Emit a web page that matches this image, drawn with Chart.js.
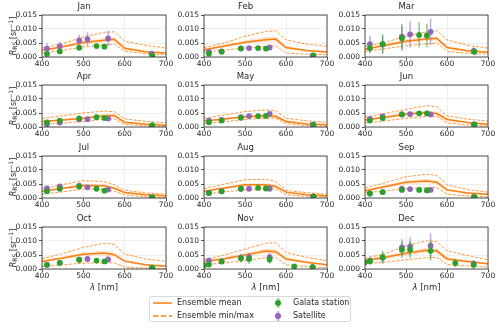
<!DOCTYPE html>
<html><head><meta charset="utf-8">
<script src="https://cdn.jsdelivr.net/npm/chart.js@4.4.1/dist/chart.umd.min.js"></script>
<style>
body{margin:0;background:#fff;width:500px;height:329px;overflow:hidden;position:relative;font-family:"DejaVu Sans",sans-serif;color:#262626;}
.panel{position:absolute;}
.ylab{position:absolute;font-size:8px;white-space:nowrap;transform:translate(-50%,-50%) rotate(-90deg);line-height:1;}
.ylab sub{font-size:6px;vertical-align:-1px;}
.ylab sup{font-size:6px;vertical-align:3px;}
.xlab{position:absolute;font-size:8.5px;white-space:nowrap;transform:translate(-50%,-50%);line-height:1;}
#legend{position:absolute;left:149px;top:296px;width:202px;height:26px;border:1px solid #d9d9d9;border-radius:2px;box-sizing:border-box;background:#fff;font-size:8px;}
#legend .t{position:absolute;line-height:1;transform:translateY(-50%);white-space:nowrap;}
#legend svg{position:absolute;left:3px;width:19px;height:4px;}
#legend .dot{position:absolute;width:6px;height:6px;border-radius:50%;transform:translate(-50%,-50%);}
#legend .bar{position:absolute;width:1.5px;height:10px;transform:translate(-50%,-50%);}
</style></head>
<body>
<script>
// ---------------- data ----------------
const months = ['Jan','Feb','Mar','Apr','May','Jun','Jul','Aug','Sep','Oct','Nov','Dec'];
const xTicks = [400, 500, 600, 700];
const yTicks = [0.000, 0.005, 0.010, 0.015];
const ensWl = [400, 450, 500, 550, 575, 600, 650, 700];
const galWlA = [412, 443, 490, 532, 551, 667];
const galWlB = [400, 412, 443, 490, 510, 560, 620, 665];
const satWl = [412, 443, 490, 510, 560, 665];

const ensMean = [
 [0.0024,0.0037,0.0052,0.0060,0.0063,0.0031,0.0019,0.0014],
 [0.0026,0.0039,0.0053,0.0062,0.0064,0.0034,0.0023,0.0018],
 [0.0028,0.0042,0.0056,0.0064,0.0067,0.0034,0.0022,0.0017],
 [0.0020,0.0025,0.0031,0.0040,0.0041,0.0017,0.0010,0.0006],
 [0.0021,0.0029,0.0037,0.0040,0.0038,0.0020,0.0011,0.0008],
 [0.0025,0.0035,0.0046,0.0052,0.0048,0.0027,0.0016,0.0010],
 [0.0024,0.0035,0.0045,0.0044,0.0035,0.0020,0.0012,0.0008],
 [0.0024,0.0036,0.0047,0.0047,0.0041,0.0021,0.0012,0.0008],
 [0.0026,0.0041,0.0056,0.0061,0.0056,0.0029,0.0018,0.0013],
 [0.0027,0.0039,0.0053,0.0057,0.0051,0.0028,0.0015,0.0010],
 [0.0027,0.0037,0.0050,0.0064,0.0062,0.0036,0.0024,0.0015],
 [0.0030,0.0042,0.0056,0.0067,0.0065,0.0036,0.0027,0.0019]
];
const ensMax = [
 [0.0032,0.0048,0.0072,0.0088,0.0090,0.0056,0.0042,0.0032],
 [0.0034,0.0050,0.0074,0.0091,0.0094,0.0061,0.0046,0.0038],
 [0.0038,0.0053,0.0074,0.0090,0.0094,0.0061,0.0042,0.0032],
 [0.0031,0.0040,0.0050,0.0057,0.0055,0.0029,0.0020,0.0015],
 [0.0031,0.0043,0.0055,0.0061,0.0058,0.0031,0.0022,0.0017],
 [0.0035,0.0049,0.0063,0.0076,0.0072,0.0040,0.0028,0.0021],
 [0.0032,0.0048,0.0062,0.0059,0.0047,0.0028,0.0018,0.0014],
 [0.0033,0.0050,0.0065,0.0067,0.0059,0.0027,0.0019,0.0014],
 [0.0035,0.0055,0.0076,0.0085,0.0081,0.0047,0.0030,0.0021],
 [0.0036,0.0055,0.0077,0.0092,0.0088,0.0053,0.0036,0.0027],
 [0.0034,0.0050,0.0071,0.0092,0.0094,0.0059,0.0042,0.0030],
 [0.0038,0.0055,0.0083,0.0100,0.0098,0.0065,0.0048,0.0033]
];
const ensMin = [
 [0.0014,0.0024,0.0036,0.0043,0.0046,0.0021,0.0012,0.0008],
 [0.0018,0.0025,0.0032,0.0038,0.0040,0.0014,0.0010,0.0008],
 [0.0020,0.0030,0.0040,0.0047,0.0050,0.0020,0.0013,0.0010],
 [0.0010,0.0014,0.0020,0.0028,0.0029,0.0009,0.0004,0.0002],
 [0.0012,0.0019,0.0027,0.0031,0.0031,0.0012,0.0005,0.0002],
 [0.0015,0.0022,0.0031,0.0038,0.0038,0.0015,0.0007,0.0003],
 [0.0014,0.0022,0.0032,0.0030,0.0024,0.0011,0.0005,0.0002],
 [0.0014,0.0022,0.0029,0.0032,0.0032,0.0012,0.0006,0.0004],
 [0.0018,0.0026,0.0033,0.0037,0.0038,0.0014,0.0007,0.0004],
 [0.0010,0.0015,0.0021,0.0022,0.0022,0.0007,0.0003,0.0001],
 [0.0015,0.0022,0.0030,0.0040,0.0042,0.0015,0.0009,0.0005],
 [0.0019,0.0025,0.0033,0.0040,0.0042,0.0016,0.0011,0.0007]
];
const ensSd = [
 [0.0004,0.0005,0.0007,0.0008,0.0008,0.0005,0.0004,0.0003],
 [0.0004,0.0005,0.0007,0.0009,0.0009,0.0006,0.0004,0.0003],
 [0.0004,0.0005,0.0007,0.0008,0.0008,0.0005,0.0004,0.0003],
 [0.0003,0.0004,0.0005,0.0006,0.0006,0.0003,0.0002,0.0002],
 [0.0003,0.0004,0.0005,0.0006,0.0006,0.0004,0.0003,0.0002],
 [0.0004,0.0005,0.0006,0.0007,0.0007,0.0004,0.0003,0.0002],
 [0.0003,0.0004,0.0005,0.0005,0.0005,0.0003,0.0002,0.0002],
 [0.0003,0.0004,0.0006,0.0006,0.0006,0.0003,0.0002,0.0002],
 [0.0004,0.0005,0.0007,0.0008,0.0008,0.0005,0.0003,0.0002],
 [0.0004,0.0005,0.0007,0.0008,0.0008,0.0005,0.0004,0.0003],
 [0.0004,0.0005,0.0007,0.0009,0.0009,0.0006,0.0004,0.0003],
 [0.0004,0.0006,0.0008,0.0010,0.0010,0.0006,0.0005,0.0004]
];
const galY = [
 [0.0011,0.0020,0.0033,0.0039,0.0037,0.0005],
 [0.0012,0.0019,0.0030,0.0032,0.0030,0.0006],
 [0.0032,0.0046,0.0067,0.0079,0.0077,0.0019],
 [0.0016,0.0023,0.0031,0.0035,0.0032,0.0007],
 [0.0017,0.0023,0.0033,0.0039,0.0040,0.0008],
 [0.0023,0.0032,0.0045,0.0049,0.0049,0.0009],
 [0.0024,0.0033,0.0041,0.0033,0.0026,0.0002],
 [0.0018,0.0024,0.0033,0.0036,0.0034,0.0006],
 [0.0016,0.0021,0.0029,0.0029,0.0027,0.0004],
 [0.0015,0.0022,0.0033,0.0030,0.0027,0.0005],
 [0.0013,0.0016,0.0027,0.0038,0.0036,0.0034,0.0009,0.0007],
 [0.0024,0.0028,0.0042,0.0069,0.0069,0.0065,0.0021,0.0015]
];
const galErr = [
 [0.0002,0.0002,0.0003,0.0003,0.0003,0.0001],
 [0.0002,0.0002,0.0002,0.0002,0.0002,0.0001],
 [0.0018,0.0035,0.0045,0.0045,0.0042,0.0013],
 [0.0002,0.0002,0.0002,0.0002,0.0002,0.0001],
 [0.0002,0.0002,0.0003,0.0003,0.0003,0.0001],
 [0.0003,0.0003,0.0004,0.0004,0.0005,0.0002],
 [0.0002,0.0002,0.0002,0.0002,0.0002,0.0001],
 [0.0002,0.0002,0.0002,0.0002,0.0002,0.0001],
 [0.0002,0.0002,0.0002,0.0002,0.0002,0.0001],
 [0.0006,0.0006,0.0008,0.0008,0.0008,0.0003],
 [0.0004,0.0004,0.0007,0.0015,0.0018,0.0015,0.0003,0.0003],
 [0.0010,0.0012,0.0022,0.0030,0.0030,0.0035,0.0015,0.0015]
];
const satY = [
 [0.0030,0.0038,0.0059,0.0064,0.0066,0.0012],
 [0.0018,0.0020,0.0031,0.0032,0.0034,0.0005],
 [0.0046,0.0045,0.0073,0.0081,0.0090,0.0022],
 [0.0010,0.0016,0.0027,0.0028,0.0030,0.0005],
 [0.0023,0.0025,0.0035,0.0039,0.0047,0.0008],
 [0.0029,0.0038,0.0045,0.0046,0.0045,0.0009],
 [0.0034,0.0041,0.0044,0.0038,0.0030,0.0003],
 [0.0018,0.0024,0.0033,0.0033,0.0033,0.0005],
 [0.0016,0.0021,0.0033,0.0032,0.0029,0.0004],
 [0.0015,0.0022,0.0033,0.0036,0.0034,0.0003],
 [0.0030,0.0027,0.0040,0.0042,0.0042,0.0007],
 [0.0030,0.0040,0.0077,0.0081,0.0083,0.0019]
];
const satErr = [
 [0.0019,0.0017,0.0021,0.0024,0.0028,0.0006],
 [0.0003,0.0003,0.0003,0.0003,0.0003,0.0001],
 [0.0030,0.0030,0.0045,0.0048,0.0047,0.0015],
 [0.0003,0.0003,0.0003,0.0003,0.0003,0.0001],
 [0.0003,0.0003,0.0003,0.0003,0.0004,0.0001],
 [0.0003,0.0003,0.0003,0.0003,0.0004,0.0001],
 [0.0003,0.0003,0.0003,0.0003,0.0003,0.0001],
 [0.0003,0.0003,0.0003,0.0003,0.0003,0.0001],
 [0.0003,0.0003,0.0003,0.0003,0.0003,0.0001],
 [0.0005,0.0006,0.0009,0.0011,0.0011,0.0003],
 [0.0008,0.0008,0.0014,0.0016,0.0016,0.0003],
 [0.0015,0.0020,0.0030,0.0033,0.0045,0.0012]
];
const galWlByMonth = [galWlA,galWlA,galWlA,galWlA,galWlA,galWlA,galWlA,galWlA,galWlA,galWlA,galWlB,galWlB];

// ---------------- layout ----------------
const colLeft = [42, 204, 365];
const colW = [124, 123, 123];
const rowTop = [15, 85, 156, 227];
const plotH = 42;
const AXW = 40, TITLEH = 14, XAXH = 14, PADR = 10;

const ORANGE = '#ff7f0e', GREEN = '#2ca02c', PURPLE = '#9467bd';
const FONT = 'DejaVu Sans';

const framePlugin = {
  id: 'frame',
  afterDatasetsDraw(c) {
    const {ctx, chartArea: a} = c;
    ctx.save();
    ctx.strokeStyle = '#262626';
    ctx.lineWidth = 0.8;
    ctx.strokeRect(a.left, a.top, a.right - a.left, a.bottom - a.top);
    ctx.restore();
  }
};

function pts(wl, ys) { return wl.map((w, i) => ({x: w, y: ys[i]})); }
function errSeg(wl, ys, es) {
  const out = [];
  wl.forEach((w, i) => { out.push({x: w, y: ys[i] - es[i]}, {x: w, y: ys[i] + es[i]}, {x: w, y: null}); });
  return out;
}

months.forEach((m, i) => {
  const r = Math.floor(i / 3), c = i % 3;
  const W = AXW + colW[c] + PADR, H = TITLEH + plotH + XAXH;
  const div = document.createElement('div');
  div.className = 'panel';
  div.style.left = (colLeft[c] - AXW) + 'px';
  div.style.top = (rowTop[r] - TITLEH) + 'px';
  div.style.width = W + 'px';
  div.style.height = H + 'px';
  const cv = document.createElement('canvas');
  cv.width = W; cv.height = H;
  cv.style.width = W + 'px'; cv.style.height = H + 'px';
  div.appendChild(cv);
  document.body.appendChild(div);

  const mean = ensMean[i], sd = ensSd[i];
  const hi = mean.map((v, k) => v + sd[k]);
  const lo = mean.map((v, k) => v - sd[k]);
  const gw = galWlByMonth[i];

  new Chart(cv, {
    type: 'line',
    data: {
      datasets: [
        {data: pts(ensWl, hi), borderWidth: 0, pointRadius: 0, fill: '+1', backgroundColor: 'rgba(255,127,14,0.2)', order: 20},
        {data: pts(ensWl, lo), borderWidth: 0, pointRadius: 0, fill: false, order: 20},
        {data: pts(ensWl, ensMax[i]), borderColor: ORANGE, borderWidth: 0.8, borderDash: [3, 1.5], pointRadius: 0, fill: false, order: 15},
        {data: pts(ensWl, ensMin[i]), borderColor: ORANGE, borderWidth: 0.8, borderDash: [3, 1.5], pointRadius: 0, fill: false, order: 15},
        {data: pts(ensWl, mean), borderColor: ORANGE, borderWidth: 1.5, pointRadius: 0, fill: false, order: 14},
        {data: errSeg(satWl, satY[i], satErr[i]), borderColor: 'rgba(148,103,189,0.55)', borderWidth: 1.5, pointRadius: 0, spanGaps: false, fill: false, order: 10},
        {data: pts(satWl, satY[i]), showLine: false, pointRadius: 2.9, pointBackgroundColor: PURPLE, pointBorderWidth: 0, order: 9},
        {data: errSeg(gw, galY[i], galErr[i]), borderColor: 'rgba(44,160,44,0.55)', borderWidth: 1.5, pointRadius: 0, spanGaps: false, fill: false, order: 8},
        {data: pts(gw, galY[i]), showLine: false, pointRadius: 2.9, pointBackgroundColor: GREEN, pointBorderWidth: 0, order: 7}
      ]
    },
    options: {
      responsive: false,
      animation: false,
      devicePixelRatio: 1,
      layout: {padding: {left: 0, right: PADR, top: 0, bottom: 0}},
      plugins: {
        legend: {display: false},
        tooltip: {enabled: false},
        title: {display: true, text: m, color: '#262626', font: {family: FONT, size: 8.5, weight: 'normal', lineHeight: '10px'}, padding: {top: 1, bottom: 3}}
      },
      scales: {
        x: {
          type: 'linear', min: xTicks[0], max: xTicks[xTicks.length - 1],
          afterFit: s => { s.height = XAXH; },
          afterBuildTicks: s => { s.ticks = xTicks.map(v => ({value: v})); },
          ticks: {font: {family: FONT, size: 7.5}, color: '#262626', padding: 0, maxRotation: 0, autoSkip: false, callback: v => String(v)},
          grid: {color: '#ebebeb', lineWidth: 0.8, tickLength: 3, tickColor: '#262626', tickWidth: 0.8},
          border: {display: false}
        },
        y: {
          type: 'linear', min: yTicks[0], max: yTicks[yTicks.length - 1], stacked: false,
          afterFit: s => { s.width = AXW; },
          afterBuildTicks: s => { s.ticks = yTicks.map(v => ({value: v})); },
          ticks: {font: {family: FONT, size: 7.5}, color: '#262626', padding: 2, callback: v => Number(v).toFixed(3)},
          grid: {color: '#ebebeb', lineWidth: 0.8, tickLength: 3, tickColor: '#262626', tickWidth: 0.8},
          border: {display: false}
        }
      }
    },
    plugins: [framePlugin]
  });
});

// axis labels
rowTop.forEach(t => {
  const d = document.createElement('div');
  d.className = 'ylab';
  d.style.left = '13px';
  d.style.top = (t + plotH / 2) + 'px';
  d.innerHTML = '<i>R</i><sub>RS</sub> [sr<sup>\u22121</sup>]';
  document.body.appendChild(d);
});
colLeft.forEach((l, c) => {
  const d = document.createElement('div');
  d.className = 'xlab';
  d.style.left = (l + colW[c] / 2) + 'px';
  d.style.top = '287px';
  d.innerHTML = '<i>\u03bb</i> [nm]';
  document.body.appendChild(d);
});
</script>
<div id="legend">
  <svg style="top:4px;" viewBox="0 0 19 4"><line x1="0" y1="2" x2="19" y2="2" stroke="#ff7f0e" stroke-width="1.5"/></svg>
  <div class="t" style="left:27px;top:6px;">Ensemble mean</div>
  <svg style="top:17px;" viewBox="0 0 19 4"><line x1="0" y1="2" x2="19" y2="2" stroke="#ff7f0e" stroke-width="1.5" stroke-dasharray="5.5,2.4"/></svg>
  <div class="t" style="left:27px;top:19px;">Ensemble min/max</div>
  <div class="bar" style="left:128px;top:6px;background:rgba(44,160,44,0.55);"></div>
  <div class="dot" style="left:128px;top:6px;background:#2ca02c;"></div>
  <div class="t" style="left:143px;top:6px;">Galata station</div>
  <div class="bar" style="left:128px;top:19px;background:rgba(148,103,189,0.55);"></div>
  <div class="dot" style="left:128px;top:19px;background:#9467bd;"></div>
  <div class="t" style="left:143px;top:19px;">Satellite</div>
</div>
</body></html>
